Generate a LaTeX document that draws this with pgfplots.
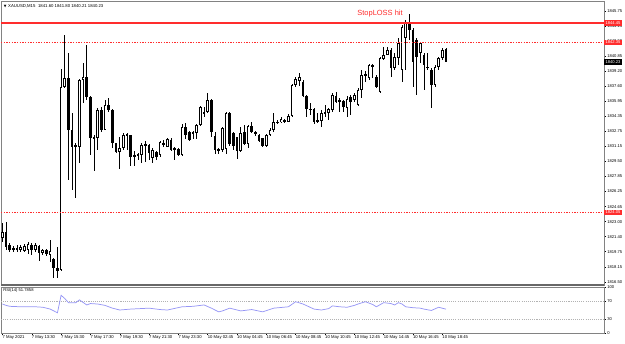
\documentclass[border=0pt]{standalone}
\usepackage{pgfplots}
\pgfplotsset{compat=1.18}
\usepackage{pgfplotstable}
\usepackage{fontspec}
\setmainfont{Liberation Sans}
\newfontfamily\dejavu{DejaVu Sans}
\definecolor{mtred}{RGB}{255,45,45}
\definecolor{rsicol}{RGB}{150,150,245}
\definecolor{framec}{RGB}{130,130,130}

\pgfplotstableread{
i o h l c
0 1821.20 1822.86 1820.80 1821.92
1 1821.92 1823.00 1819.94 1820.30
2 1820.48 1820.66 1819.76 1819.94
3 1820.16 1820.37 1819.76 1820.05
4 1819.94 1820.48 1819.69 1820.19
5 1819.94 1820.48 1819.69 1820.30
6 1819.86 1820.56 1819.69 1820.40
7 1819.94 1820.84 1819.51 1820.59
8 1820.48 1820.66 1819.40 1819.94
9 1819.94 1820.70 1819.72 1820.48
10 1820.37 1820.48 1818.78 1819.58
11 1819.65 1820.02 1819.40 1819.94
12 1819.94 1820.02 1819.29 1819.48
13 1819.40 1821.02 1818.68 1819.83
14 1818.94 1819.08 1816.92 1817.96
15 1818.03 1820.30 1816.88 1817.70
16 1817.78 1839.46 1817.70 1837.58
17 1837.58 1843.16 1837.40 1838.48
18 1838.48 1841.18 1827.50 1832.90
19 1832.90 1834.74 1826.42 1831.10
20 1831.10 1831.50 1825.52 1831.28
21 1831.10 1838.40 1829.30 1838.30
22 1838.30 1840.10 1835.82 1838.66
23 1838.66 1842.08 1836.14 1836.50
24 1836.50 1836.57 1830.20 1832.00
25 1832.00 1832.36 1828.50 1832.18
26 1832.00 1835.24 1830.74 1835.06
27 1835.06 1835.35 1832.72 1832.90
28 1832.90 1836.14 1832.85 1835.60
29 1835.60 1836.32 1834.88 1835.06
30 1835.06 1835.17 1830.92 1831.46
31 1831.46 1831.53 1830.45 1830.56
32 1830.56 1832.18 1828.69 1830.92
33 1830.92 1832.54 1830.74 1832.36
34 1832.36 1832.54 1830.74 1832.47
35 1832.36 1832.41 1829.04 1830.02
36 1830.02 1830.66 1829.04 1830.20
37 1830.31 1830.45 1829.66 1830.09
38 1830.20 1831.53 1829.30 1831.28
39 1831.39 1831.74 1829.48 1831.17
40 1831.28 1831.35 1829.66 1830.38
41 1829.91 1830.92 1829.37 1830.74
42 1830.56 1830.66 1829.66 1829.98
43 1830.20 1831.74 1830.02 1831.64
44 1831.53 1831.82 1831.03 1831.28
45 1831.10 1832.00 1831.03 1831.93
46 1831.82 1832.00 1830.66 1830.74
47 1830.92 1831.03 1829.66 1830.74
48 1830.82 1830.92 1830.09 1830.20
49 1830.20 1833.52 1830.09 1833.26
50 1833.26 1833.69 1831.93 1832.36
51 1832.72 1832.82 1831.74 1831.82
52 1832.54 1832.79 1831.93 1832.68
53 1832.54 1833.55 1831.93 1833.44
54 1833.44 1835.45 1833.33 1835.42
55 1834.88 1835.42 1834.34 1834.70
56 1834.88 1836.86 1834.70 1836.14
57 1836.14 1836.22 1832.11 1832.72
58 1832.25 1832.72 1830.31 1830.74
59 1830.74 1830.96 1830.31 1830.82
60 1830.74 1833.26 1830.56 1833.08
61 1830.82 1834.88 1830.31 1834.77
62 1834.77 1834.88 1831.17 1831.39
63 1832.61 1832.72 1830.74 1831.17
64 1832.11 1832.18 1829.77 1830.66
65 1830.66 1833.26 1830.56 1832.54
66 1832.72 1833.44 1831.28 1831.39
67 1831.39 1833.44 1830.92 1833.33
68 1833.33 1833.80 1832.54 1832.72
69 1832.72 1832.82 1832.25 1832.47
70 1832.36 1832.47 1831.60 1831.71
71 1832.00 1832.05 1831.03 1831.20
72 1831.17 1832.47 1831.03 1832.36
73 1832.36 1833.08 1832.25 1832.90
74 1832.90 1834.70 1832.72 1833.80
75 1833.80 1833.98 1833.55 1833.69
76 1833.73 1834.27 1833.62 1834.06
77 1833.98 1834.06 1833.62 1833.80
78 1833.80 1834.60 1833.73 1834.41
79 1834.41 1837.87 1834.34 1837.76
80 1837.76 1838.66 1837.58 1838.41
81 1838.22 1839.02 1837.65 1838.59
82 1838.12 1838.30 1836.50 1836.57
83 1836.57 1836.68 1834.34 1835.14
84 1835.06 1835.78 1834.52 1835.20
85 1835.14 1835.24 1833.55 1833.80
86 1833.80 1834.77 1833.62 1833.98
87 1833.87 1835.06 1833.26 1834.77
88 1834.84 1835.60 1834.34 1834.63
89 1834.70 1835.24 1833.98 1835.14
90 1835.06 1836.93 1834.88 1836.68
91 1836.57 1837.04 1835.78 1835.96
92 1836.03 1836.32 1834.88 1836.14
93 1836.06 1836.14 1834.88 1835.42
94 1835.28 1836.57 1834.34 1836.25
95 1836.50 1836.68 1834.52 1835.96
96 1836.14 1836.86 1835.96 1836.68
97 1835.60 1837.40 1835.49 1837.22
98 1837.22 1839.38 1836.32 1838.84
99 1838.95 1839.30 1838.12 1838.73
100 1838.48 1839.99 1838.30 1839.92
101 1839.89 1839.99 1838.48 1839.74
102 1838.66 1838.84 1837.40 1837.58
103 1837.04 1840.82 1836.93 1840.64
104 1840.54 1841.90 1840.46 1841.00
105 1841.00 1841.90 1840.95 1841.54
106 1841.54 1841.72 1838.66 1839.56
107 1839.56 1841.18 1839.38 1840.82
108 1840.64 1842.80 1839.92 1842.26
109 1839.38 1844.24 1838.12 1844.02
110 1842.84 1844.78 1839.38 1844.56
111 1844.56 1845.37 1842.62 1843.70
112 1843.70 1843.92 1837.58 1840.24
113 1842.62 1842.84 1836.68 1840.78
114 1841.22 1842.44 1840.10 1842.30
115 1841.00 1841.18 1837.22 1839.92
116 1839.74 1841.18 1839.38 1839.56
117 1839.38 1839.56 1835.24 1837.76
118 1837.76 1839.92 1837.58 1839.74
119 1839.74 1840.82 1839.38 1840.64
120 1840.64 1841.72 1840.46 1841.54
121 1841.60 1841.80 1840.21 1840.23
}\candles

\pgfplotstableread{
i r
0 63
1 60
2 58
5 57
9 57
11 56
13 52
15 44
16 82
17 75
18 66
20 66
21 72
23 61
24 64
26 63
28 60
30 54
32 50
35 52
40 54
43 51
45 50
49 57
52 58
55 61
57 54
59 46
60 48
62 54
65 48
68 51
71 46
74 54
78 57
80 68
82 63
85 52
87 50
89 53
90 59
92 57
94 56
96 60
97 63
99 68
101 62
102 57
104 66
106 64
107 61
108 66
109 63
110 57
112 55
114 54
115 52
117 49
119 56
121 51.79
}\rsi

\begin{document}
\begin{tikzpicture}
\path[use as bounding box] (0,0) rectangle (468.75pt,-257.25pt);
\begin{axis}[
  name=main,
  at={(0.75pt,-0.75pt)}, anchor=north west,
  scale only axis, width=452.25pt, height=213pt,
  xmin=-0.4, xmax=164.1, ymin=1816.16, ymax=1846.83,
  axis line style={framec, line width=0.5pt},
  clip mode=individual,
  xtick=\empty,
  ytick={1845.75,1844.125,1842.5,1840.875,1839.25,1837.625,1836.0,1834.375,1832.75,1831.125,1829.5,1827.875,1826.25,1824.625,1823.0,1821.375,1819.75,1818.125,1816.5},
  yticklabels={1845.75,1844.15,1842.50,1840.85,1839.20,1837.60,1835.95,1834.35,1832.75,1831.15,1829.50,1827.85,1826.25,1824.65,1823.00,1821.40,1819.75,1818.15,1816.50},
  ytick pos=right, yticklabel pos=right,
  tick align=outside, major tick length=1.5pt,
  ytick style={black, line width=0.4pt},
  yticklabel style={font=\fontsize{3.1}{3.5}\selectfont, inner sep=0.8pt},
]
% wicks
\addplot[draw=none, mark=none, forget plot,
  error bars/.cd, y dir=both, y explicit, error mark=none,
  error bar style={draw=black, line width=0.65pt}]
  table[x=i, y expr={(\thisrow{h}+\thisrow{l})/2}, y error expr={(\thisrow{h}-\thisrow{l})/2}] {\candles};
% bodies
\addplot[draw=none, mark=none, forget plot,
  error bars/.cd, y dir=both, y explicit, error mark=none,
  error bar style={draw=black, line width=2.05pt}]
  table[x=i, y expr={(\thisrow{o}+\thisrow{c})/2}, y error expr={max(abs(\thisrow{o}-\thisrow{c})/2,0.06)}] {\candles};
% hollow bull interiors
\addplot[draw=none, mark=none, forget plot,
  error bars/.cd, y dir=both, y explicit, error mark=none,
  error bar style={draw=white, line width=0.7pt}]
  table[x=i, y expr={(\thisrow{c}-\thisrow{o}>0.26) ? (\thisrow{o}+\thisrow{c})/2 : nan}, y error expr={(\thisrow{c}-\thisrow{o})/2-0.1}] {\candles};
% horizontal levels
\addplot[mtred, line width=0.9pt, forget plot] coordinates {(-0.4,1844.45) (164.1,1844.45)};
\addplot[mtred, line width=0.6pt, dash pattern=on 1pt off 1pt, forget plot] coordinates {(-0.4,1842.35) (164.1,1842.35)};
\addplot[mtred, line width=0.6pt, dash pattern=on 1pt off 1pt, forget plot] coordinates {(-0.4,1824.0) (164.1,1824.0)};
% labels
\node[anchor=west, inner sep=0pt, font=\fontsize{3.2}{3.6}\selectfont] at (rel axis cs:0,1) [yshift=-3.6pt, xshift=2pt] {{\dejavu\fontsize{2.6}{3}\selectfont ▼}\hspace{1.2pt}XAUUSD,M15\hspace{2pt}1841.60 1841.80 1840.21 1840.23};
\node[text=mtred, font=\fontsize{5.6}{6.5}\selectfont, inner sep=0pt] at (axis cs:103,1845.43) {StopLOSS hit};
\node[fill=mtred, text=white, anchor=west, inner xsep=1pt, inner ysep=0.9pt, font=\fontsize{3.1}{3.5}\selectfont] at (axis cs:164.1,1844.45) {1844.45};
\node[fill=mtred, text=white, anchor=west, inner xsep=1pt, inner ysep=0.9pt, font=\fontsize{3.1}{3.5}\selectfont] at (axis cs:164.1,1842.35) {1842.35};
\node[fill=black, text=white, anchor=west, inner xsep=1pt, inner ysep=0.9pt, font=\fontsize{3.1}{3.5}\selectfont] at (axis cs:164.1,1840.23) {1840.23};
\node[fill=mtred, text=white, anchor=west, inner xsep=1pt, inner ysep=0.9pt, font=\fontsize{3.1}{3.5}\selectfont] at (axis cs:164.1,1824.0) {1824.05};
\end{axis}
\draw[framec!80!black, line width=1.4pt] (main.south west) -- (main.south east);

\begin{axis}[
  name=rsi,
  at={(0.75pt,-215.25pt)}, anchor=north west,
  scale only axis, width=452.25pt, height=34.5pt,
  xmin=-0.4, xmax=164.1, ymin=0, ymax=100,
  axis line style={framec, line width=0.5pt},
  clip mode=individual,
  ytick={0,30,70,100}, ytick pos=right, yticklabel pos=right,
  yticklabels={0,30,70,100},
  xtick={0,8,16,24,32,40,48,56,64,72,80,88,96,104,112,120},
  xticklabels={7 May 2021,7 May 13:30,7 May 15:30,7 May 17:30,7 May 19:30,7 May 21:30,7 May 23:30,10 May 02:45,10 May 04:45,10 May 06:45,10 May 08:45,10 May 10:45,10 May 12:45,10 May 14:45,10 May 16:45,10 May 18:45},
  xtick pos=bottom,
  tick align=outside, major tick length=1.5pt,
  tick style={black, line width=0.4pt},
  yticklabel style={font=\fontsize{3.1}{3.5}\selectfont, inner sep=0.8pt},
  xticklabel style={font=\fontsize{3.15}{3.6}\selectfont, anchor=north west, inner sep=0.5pt, xshift=-0.6pt},
]
\addplot[gray!60, line width=0.4pt, dash pattern=on 0.8pt off 0.8pt, forget plot] coordinates {(-0.4,70) (164.1,70)};
\addplot[gray!60, line width=0.4pt, dash pattern=on 0.8pt off 0.8pt, forget plot] coordinates {(-0.4,30) (164.1,30)};
\addplot[rsicol, line width=0.55pt, forget plot] table[x=i, y=r] {\rsi};
\node[anchor=north west, inner sep=0pt, font=\fontsize{3.1}{3.5}\selectfont] at (rel axis cs:0,1) [xshift=1.5pt, yshift=-1.2pt] {RSI(14) 51.7858};
\end{axis}
\end{tikzpicture}
\end{document}
